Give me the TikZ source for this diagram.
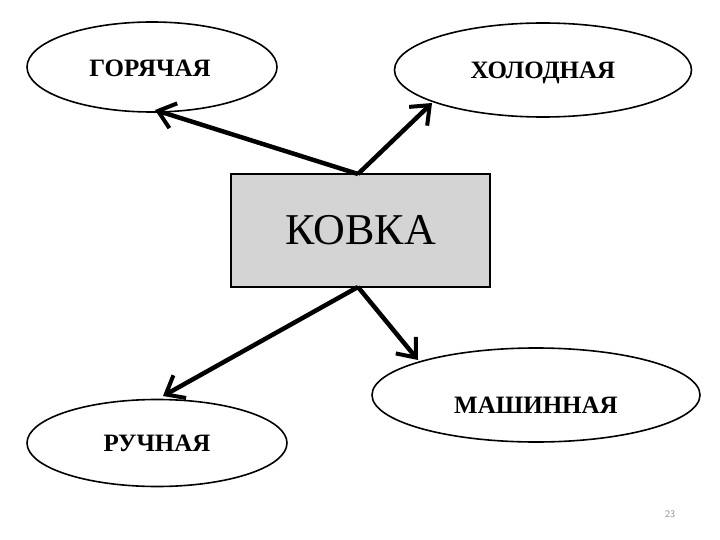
\documentclass[tikz,border=0pt]{standalone}
\usepackage{fontspec}
\setmainfont{Liberation Serif}
\usetikzlibrary{shapes.geometric,arrows.meta}
\begin{document}
\begin{tikzpicture}[x=1pt,y=-1pt,
  oval/.style={draw,line width=1.6pt,ellipse,minimum width=#1},
  lbl/.style={font=\fontsize{25}{28}\selectfont\bfseries},
  arr/.style={line width=4.5pt,-{Straight Barb[length=16pt,width=26pt,line width=4pt]}}]
\useasboundingbox (0,0) rectangle (720,540);
\node[oval=250pt,minimum height=90pt] (g) at (152,67) {};
\node[lbl] at (150,68) {ГОРЯЧАЯ};
\node[oval=297pt,minimum height=94pt] (h) at (543,70) {};
\node[lbl] at (543,73) {ХОЛОДНАЯ};
\node[oval=328pt,minimum height=94pt] (m) at (536,395) {};
\node[lbl] at (536,405) {МАШИННАЯ};
\node[oval=260pt,minimum height=87pt] (r) at (157,443) {};
\node[lbl] at (157,443) {РУЧНАЯ};
\node[draw,line width=1.6pt,fill=black!17,minimum width=259pt,minimum height=113pt,
  font=\fontsize{44}{48}\selectfont] (k) at (360.5,230.5) {КОВКА};
\coordinate (kt) at (358,174);
\coordinate (kb) at (358,287);
\coordinate (gt) at (155,110);
\coordinate (ht) at (432,103);
\coordinate (rt) at (163,396);
\coordinate (mt) at (418,360);
\draw[arr] (kt) -- (gt);
\draw[arr] (kt) -- (ht);
\draw[arr] (kb) -- (rt);
\draw[arr] (kb) -- (mt);
\node[text=black!45,font=\fontsize{10}{12}\selectfont\sffamily] (n) at (670,514) {23};
\end{tikzpicture}
\end{document}
